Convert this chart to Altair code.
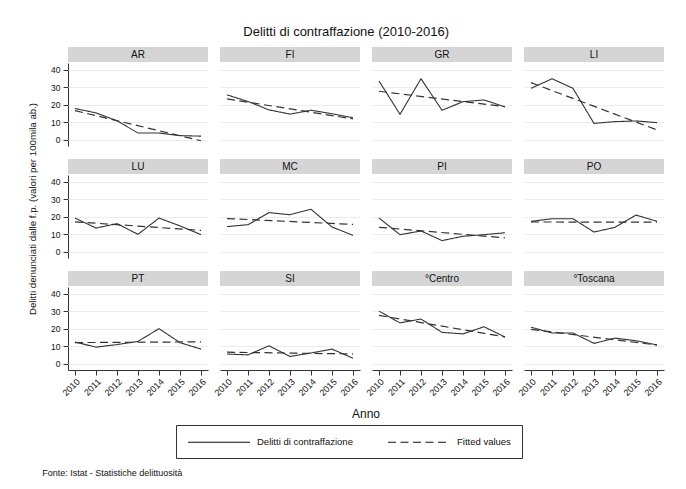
import altair as alt
import pandas as pd

years = [2010, 2011, 2012, 2013, 2014, 2015, 2016]
regions = ["AR", "FI", "GR", "LI", "LU", "MC", "PI", "PO", "PT", "SI", "°Centro", "°Toscana"]

AR = [18.0, 15.5, 11.0, 4.0, 4.0, 2.5, 2.2]
FI = [25.8, 22.0, 17.2, 14.8, 17.0, 15.0, 12.7]
GR = [33.7, 14.7, 35.0, 17.0, 21.9, 22.9, 18.9]
LI = [29.5, 35.0, 29.5, 9.5, 10.5, 10.9, 9.9]
LU = [19.4, 13.7, 16.2, 10.1, 19.4, 14.9, 9.9]
MC = [14.5, 15.6, 22.5, 21.3, 24.4, 14.3, 9.5]
PI = [19.4, 9.9, 12.0, 6.5, 9.0, 9.9, 11.0]
PO = [17.5, 19.0, 19.0, 11.4, 14.1, 21.1, 17.5]
PT = [12.6, 9.6, 11.1, 12.9, 20.2, 12.2, 8.5]
SI = [5.7, 5.2, 10.4, 4.3, 6.3, 8.5, 3.3]
CENTRO = [30.2, 23.5, 25.7, 18.1, 17.2, 21.3, 15.4]
TOSCANA = [21.0, 17.7, 17.7, 11.8, 14.8, 13.3, 10.9]

series_values = [AR, FI, GR, LI, LU, MC, PI, PO, PT, SI, CENTRO, TOSCANA]

rows = []
for i, (reg, vals) in enumerate(zip(regions, series_values)):
    for yr, v in zip(years, vals):
        rows.append({"region": reg, "year": yr, "value": v, "r": i // 4, "c": i % 4})
df = pd.DataFrame(rows)

FONT = "Liberation Sans"
W, H = 140, 83
LBL_ACT = "Delitti di contraffazione"
LBL_FIT = "Fitted values"

x_enc = alt.X(
    "year:Q",
    scale=alt.Scale(domain=[2009.667, 2016.333], nice=False, zero=False),
    axis=alt.Axis(values=years, format="d", labelAngle=-45, title=None, grid=False,
                  tickSize=5, labelFontSize=9, labelPadding=2),
)
y_enc = alt.Y(
    "value:Q",
    scale=alt.Scale(domain=[-3.43, 44], nice=False, zero=False),
    axis=alt.Axis(values=[0, 10, 20, 30, 40], title=None, grid=True, gridColor="#ececec",
                  gridWidth=1, tickSize=5, labelFontSize=8.5, labelPadding=3),
)
dash_enc = alt.StrokeDash(
    "series:N",
    scale=alt.Scale(domain=[LBL_ACT, LBL_FIT], range=[[1, 0], [8, 4.5]]),
    legend=alt.Legend(
        orient="none", legendX=108, legendY=362, direction="horizontal", title=None,
        strokeColor="#333", padding=11, labelFontSize=9.5, labelFont=FONT,
        symbolType="M-1,0H11.4", symbolSize=100, symbolStrokeWidth=1.2,
        symbolStrokeColor="#111", columnPadding=32, labelOffset=58, labelLimit=0,
        labelColor="#111",
    ),
)

base = alt.Chart(df)

strip = base.transform_filter("datum.year == 2010").mark_rect(color="#d5d5d5").encode(
    x=alt.value(0), x2=alt.value(W), y=alt.value(-16), y2=alt.value(-1)
)
strip_text = base.transform_filter("datum.year == 2010").mark_text(
    fontSize=10, font=FONT, color="#111", baseline="middle", align="center"
).encode(x=alt.value(W / 2), y=alt.value(-8.5), text="region:N")

actual = base.transform_calculate(series=f'"{LBL_ACT}"').mark_line(
    color="#333", strokeWidth=1.1
).encode(x=x_enc, y=y_enc, strokeDash=dash_enc)

fitted = base.transform_regression(
    "year", "value", groupby=["r", "c", "region"]
).transform_calculate(series=f'"{LBL_FIT}"').mark_line(
    color="#333", strokeWidth=1.2
).encode(x=x_enc, y=y_enc, strokeDash=dash_enc)

panel = alt.layer(strip, strip_text, actual, fitted).properties(width=W, height=H)

facet = panel.facet(
    row=alt.Row("r:O", header=alt.Header(
        labels=False, title="Delitti denunciati dalle f.p. (valori per 100mila ab.)",
        titleOrient="left", titleFontSize=9.7, titleFontWeight="normal", titleFont=FONT,
        titleColor="#111", titlePadding=2)),
    column=alt.Column("c:O", header=alt.Header(
        labels=False, title="Anno", titleOrient="bottom", titleFontSize=12,
        titleFontWeight="normal", titleFont=FONT, titleColor="#111", titlePadding=1)),
    spacing={"row": 13, "column": 12},
).properties(
    title=alt.TitleParams("Fonte: Istat - Statistiche delittuosità", orient="bottom",
                          anchor="start", fontSize=9, fontWeight="normal", font=FONT,
                          color="#111", offset=49, dx=14)
)

chart = alt.vconcat(facet).properties(
    title=alt.TitleParams("Delitti di contraffazione (2010-2016)", anchor="middle",
                          fontSize=13, fontWeight="normal", font=FONT, color="#111", offset=8),
    padding={"left": 20, "top": 18, "right": 5, "bottom": 5},
).configure(font=FONT).configure_view(stroke=None).configure_axis(
    domainColor="#333", tickColor="#333", labelColor="#111", labelFont=FONT
)

chart.save("out.html", embed_options={"renderer": "svg", "actions": False})
